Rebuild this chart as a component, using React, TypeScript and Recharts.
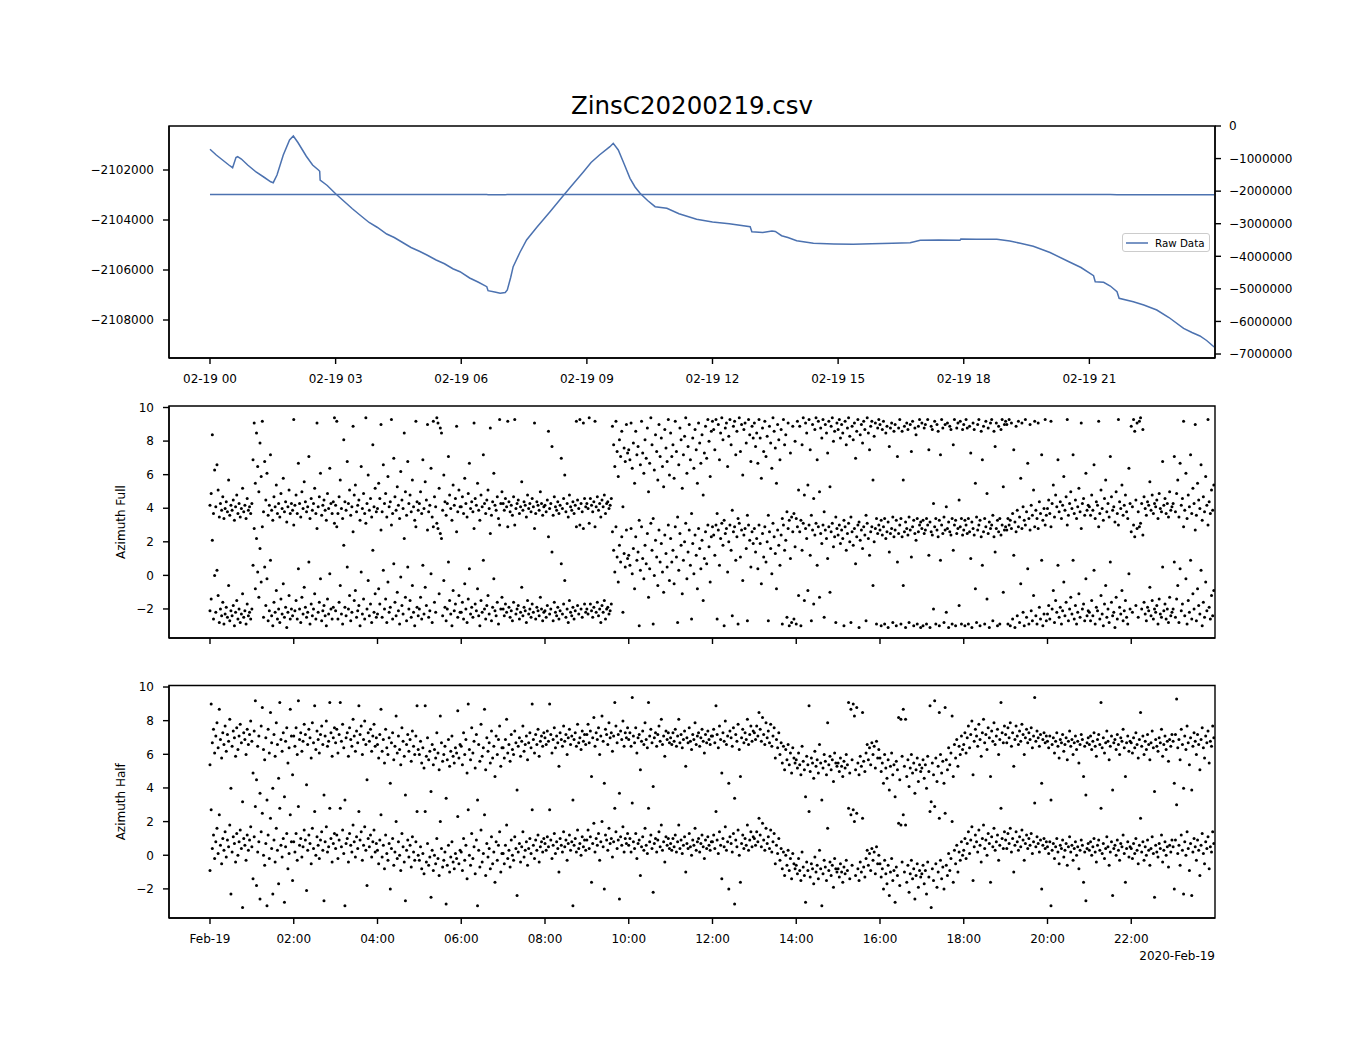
import React from 'react';
import { LineChart, Line, XAxis, YAxis, ScatterChart, Scatter, Legend, ReferenceArea } from 'recharts';

const TITLE = 'ZinsC20200219.csv';
const OFFSET_LABEL = '2020-Feb-19';
const SERIES_NAME = 'Raw Data';

const X_MIN = -0.979;
const X_MAX = 24.0;
const TOP_LEFT_DOMAIN = [-2109520, -2100240];
const TOP_RIGHT_DOMAIN = [-7122500, 0];
const AZ_DOMAIN = [-3.73, 10.09];

// Raw data: time (hours since 02-19 00:00) and value
const RAW_T = [
  0, 0.15, 0.3, 0.45, 0.54, 0.62, 0.66, 0.75, 0.9, 1.1, 1.3, 1.45, 1.51, 1.6, 1.75, 1.9, 1.99, 2.1, 2.3, 2.45,
  2.59, 2.62, 2.63, 2.8, 3.0, 3.2, 3.4, 3.58, 3.8, 4.0, 4.22, 4.4, 4.6, 4.8, 5.0, 5.18, 5.4, 5.6, 5.8, 5.97,
  6.2, 6.4, 6.61, 6.64, 6.8, 6.93, 7.05, 7.1, 7.18, 7.24, 7.4, 7.56, 7.8, 8.12, 8.4, 8.6, 8.92, 9.1, 9.3, 9.55,
  9.63, 9.75, 9.9, 10.03, 10.15, 10.27, 10.45, 10.63, 10.91, 11.2, 11.62, 12.0, 12.4, 12.9, 12.94, 13.2, 13.42, 13.5, 13.65, 13.8,
  14.01, 14.41, 14.9, 15.36, 15.8, 16.3, 16.72, 16.96, 17.4, 17.91, 17.93, 18.3, 18.79, 19.1, 19.35, 19.66, 20.06, 20.5, 20.8, 21.1,
  21.14, 21.34, 21.5, 21.66, 21.71, 22.05, 22.3, 22.61, 22.9, 23.25, 23.45, 23.64, 23.8, 23.98,
];
const RAW_V = [
  -2101172, -2101400, -2101600, -2101800, -2101908, -2101500, -2101468, -2101560, -2101800, -2102080,
  -2102300, -2102470, -2102508, -2102200, -2101400, -2100800, -2100640, -2100900, -2101450, -2101800,
  -2102000, -2102050, -2102400, -2102620, -2102950, -2103250, -2103550, -2103800, -2104100, -2104300,
  -2104560, -2104700, -2104900, -2105100, -2105250, -2105400, -2105600, -2105750, -2105950, -2106068,
  -2106320, -2106480, -2106668, -2106828, -2106880, -2106932, -2106900, -2106800, -2106300, -2105868,
  -2105300, -2104800, -2104300, -2103668, -2103100, -2102700, -2102068, -2101700, -2101400, -2101068,
  -2100932, -2101200, -2101800, -2102332, -2102680, -2102932, -2103220, -2103468, -2103532, -2103750,
  -2103972, -2104080, -2104150, -2104268, -2104468, -2104500, -2104440, -2104460, -2104628, -2104700,
  -2104828, -2104932, -2104960, -2104972, -2104950, -2104930, -2104908, -2104812, -2104800, -2104812,
  -2104760, -2104770, -2104772, -2104840, -2104932, -2105050, -2105300, -2105660, -2105900, -2106228,
  -2106468, -2106492, -2106640, -2106868, -2107132, -2107268, -2107400, -2107600, -2107900, -2108332,
  -2108500, -2108640, -2108820, -2109080,
];

const TOP_X_TICKS = [0, 3, 6, 9, 12, 15, 18, 21];
const TOP_LEFT_TICKS = [-2108000, -2106000, -2104000, -2102000];
const TOP_RIGHT_TICKS = [0, -1000000, -2000000, -3000000, -4000000, -5000000, -6000000, -7000000];
const AZ_X_TICKS = [0, 2, 4, 6, 8, 10, 12, 14, 16, 18, 20, 22];
const AZ_Y_TICKS = [-2, 0, 2, 4, 6, 8, 10];

// Azimuth Full: base angle per sample, one row per hour
const AZ_FULL: number[][] = [
  [-2.1, -1.4, 2.1, -2.6, 0.0, -2.2, 0.3, -1.2, -2.8, -2.0, -2.4, -1.6, -2.9, -2.3, -1.9, -2.5, -0.6, -2.7, -2.1, -2.4, -1.8, -3.0, -2.2, -1.5, -2.6, -2.0, -2.8, -2.3, -1.1, -2.5, -2.1, -2.9, -1.7, -2.4, -2.2, -2.6],
  [-2.0, 0.6, 2.8, -0.8, 2.2, 0.2, -1.3, 1.6, -0.4, 2.9, -2.5, 0.5, -1.8, -0.2, -2.7, -2.1, 0.9, -2.4, -3.0, -1.6, -2.2, -0.9, -2.6, -2.0, -2.8, -1.4, -2.3, -0.5, -2.5, -1.9, -3.1, -2.2, -1.2, -2.6, -2.0, -2.4],
  [3.0, -2.1, -1.5, -2.6, 0.4, -2.0, -2.8, -1.3, -2.3, -0.7, -1.9, -2.5, -2.2, 0.8, -2.9, -1.7, -2.4, -2.0, -1.1, -2.6, 2.8, -2.2, -1.6, -0.2, -2.7, -2.1, -1.8, -2.4, -3.0, -1.4, -2.3, 0.1, -2.0, -2.6, -1.9, 3.1],
  [-2.1, 2.9, -2.6, -1.6, -0.6, -2.3, -2.9, 1.8, -1.9, -2.4, 0.5, -2.0, -1.2, -2.7, -2.2, 2.6, -1.5, -0.9, -2.5, -2.1, -1.8, -3.0, 0.2, -2.3, -1.4, -2.6, 3.1, -2.0, -0.3, -2.4, -1.7, -2.8, 1.5, -2.2, -1.1, -2.5],
  [-2.3, -0.8, -1.7, 2.7, -2.5, 0.3, -2.0, -1.4, -2.8, -0.4, -2.2, -1.9, 3.0, -2.6, 0.7, -1.6, -2.4, -1.0, -2.1, -2.9, -0.1, -1.8, -2.3, 2.2, -1.3, -2.7, 0.5, -2.0, -1.5, -2.5, -0.6, -2.2, -3.0, 2.9, -1.9, -2.4],
  [-2.0, -1.3, -2.6, 0.6, -2.3, -0.7, -1.8, 2.7, -2.5, -2.1, 0.1, -2.8, 2.9, -1.6, -2.2, 3.1, 2.8, -1.1, 2.5, 2.2, -2.4, -0.3, -1.9, -2.7, -2.0, 0.8, -1.5, -2.3, -3.0, -0.9, -2.1, -1.7, 2.6, -2.5, -1.2, -2.2],
  [-2.2, -1.6, -2.6, -0.5, -2.0, -2.8, -1.4, 0.4, -2.3, -1.9, -2.5, 2.8, -1.7, -2.1, -0.8, -2.4, -3.0, -1.5, -2.2, 0.9, -2.0, -2.6, -1.8, -1.2, -2.3, 2.5, -2.7, -1.9, -0.2, -2.1, -2.4, -1.6, -2.9, 3.0, -2.0, -1.3],
  [-2.0, -2.4, -1.7, -2.2, 2.9, -1.9, -2.5, -2.1, -2.7, -1.6, 3.0, -2.3, -2.0, -1.8, -2.6, -2.2, -0.7, -2.4, -1.9, -2.1, -2.8, -1.5, -2.3, -2.0, -2.5, -1.7, -2.2, 2.8, -2.6, -1.9, -2.1, -2.4, -1.3, -2.0, -2.7, -2.2],
  [-2.1, -2.5, -1.8, 2.3, -2.3, -2.0, 1.4, -2.7, -1.6, -2.2, -2.4, -1.9, -2.6, -2.1, 0.7, -2.3, -1.7, -0.3, -2.5, -2.0, -2.8, -1.5, -2.2, -2.4, -1.9, -2.6, -2.1, 2.9, -1.8, -2.3, 3.0, -2.0, -2.5, 2.8, -1.7, -2.2],
  [-2.0, -2.3, 3.1, -1.7, -2.1, -2.5, -1.9, 2.9, -2.2, -1.6, -2.4, -2.0, -2.8, -1.8, -2.2, -1.5, -2.6, -2.0, -1.9, -2.3, -2.1, -1.7, 2.6, 1.5, 0.2, 2.9, 1.1, -0.4, 1.8, 0.8, 2.3, -2.2, 1.3, 0.5, 2.7, 1.0],
  [1.2, 0.6, 2.8, 0.1, 1.6, -0.8, 2.3, 0.9, 1.4, -3.0, 0.3, 2.9, 1.0, -0.2, 1.8, 0.7, 2.5, -1.3, 0.4, 3.1, 1.5, -2.9, 0.0, 2.1, 1.1, -0.6, 2.7, 0.8, 1.9, 0.2, -1.0, 2.4, 1.3, 0.5, 3.0, -0.3],
  [2.2, 0.8, 1.5, -0.5, 2.9, 1.1, -2.8, 0.3, 2.5, 1.8, -1.1, 0.9, 2.0, 3.1, -0.2, 1.4, 2.7, 0.6, -2.6, 1.9, 0.1, 2.4, 1.2, -0.8, 2.8, 1.6, 0.4, 2.1, -1.5, 1.0, 2.6, 0.7, 3.0, 1.7, -0.4, 2.3],
  [2.9, 2.4, 1.2, 3.0, -2.6, 2.7, 0.6, 2.2, 3.1, 1.8, -3.0, 2.5, 2.8, 0.2, 2.0, 3.0, 1.5, -2.4, 2.6, 2.9, 0.9, 2.3, -2.9, 3.1, 1.1, 2.7, -0.3, 2.4, 2.8, 1.6, -2.7, 3.0, 2.1, 0.5, 2.6, 1.9],
  [2.8, 1.4, 2.2, 0.4, 3.0, 1.9, -0.5, 2.5, 1.1, 2.9, 0.8, 2.0, -2.7, 2.6, 1.6, 0.1, 3.1, 2.3, 1.3, -0.8, 2.7, 1.8, 0.6, 2.4, -2.9, 3.0, 1.5, 2.1, -2.5, 2.8, -3.0, 1.0, -2.8, 2.6, -2.6, 1.7],
  [-2.9, 2.9, -1.2, 2.6, -3.0, 1.5, 3.1, -1.5, 2.8, 2.2, -0.9, 3.0, 1.2, -2.7, 2.7, -1.7, 2.4, 3.1, 0.6, 2.9, -1.3, 2.5, 1.9, 3.0, -2.5, 2.7, 2.2, 1.0, 2.9, -1.0, 2.6, 3.1, 1.7, 2.3, -2.8, 2.8],
  [2.4, 3.0, 1.9, 2.7, 2.2, -3.0, 2.9, 1.5, 2.5, 3.1, 2.0, -2.8, 2.6, 1.8, 2.8, 0.7, 2.3, 3.0, -3.1, 2.1, 2.7, 1.6, 2.9, 2.4, -2.7, 3.1, 2.2, 1.2, 2.6, 2.9, -0.6, 2.0, 2.8, -2.9, 2.5, 3.0],
  [2.7, -3.0, 2.4, 2.9, -2.9, 2.2, 2.6, -3.1, 1.4, 2.5, 2.8, -2.8, 2.3, 2.7, -3.0, 0.8, 2.5, 3.0, -2.9, 2.3, -0.6, 2.6, -3.1, 2.8, 2.4, -2.8, 2.7, 1.1, 2.9, -3.0, 2.5, 2.1, -2.9, 2.6, 3.0, -3.1],
  [2.8, -3.0, 2.5, 2.7, -2.9, 3.0, 1.2, -3.1, 2.6, 2.4, -2.0, 2.9, -2.9, 2.7, 2.3, -3.0, 0.9, 3.0, 2.5, -2.8, 2.7, -2.2, 2.8, -3.1, 2.6, 2.4, -2.9, 1.5, 3.0, -3.0, 2.5, 2.8, -1.8, 2.9, -2.9, 2.4],
  [2.7, -3.0, 3.0, 2.5, -2.9, 2.6, 1.0, -3.1, 2.8, 2.4, -0.8, -2.8, 2.7, 3.0, -3.0, 2.3, 0.6, 2.6, -2.9, 2.9, -1.4, 2.5, -3.1, 2.8, 3.0, -2.7, 2.3, 1.4, 2.8, -3.0, 2.6, -2.9, 2.4, 3.0, -1.0, 2.7],
  [2.9, 2.7, -2.9, 3.0, -3.0, 2.8, -2.6, 1.2, -3.1, 2.6, -2.4, 2.9, -2.8, -0.5, 2.8, -2.2, -3.0, 3.0, -2.5, 0.4, -2.9, 2.7, -2.1, -2.7, -1.2, 2.9, -2.4, -2.9, 2.8, -1.9, -2.6, 0.9, -3.0, -2.3, 3.0, -2.7],
  [-2.3, -1.8, -2.6, 2.9, -2.0, -0.9, -2.8, -1.5, -2.2, 0.6, -2.5, -1.9, -2.9, -2.1, -0.4, -2.4, -1.6, 3.0, -2.7, -2.0, -1.3, -2.3, 0.9, -2.6, -1.8, -2.9, -2.2, -1.1, -2.5, 2.8, -2.0, -1.7, -2.7, -0.2, -2.4, -2.1],
  [-2.2, -2.7, -1.5, -2.4, 0.3, -2.9, -1.9, -2.1, 2.9, -2.6, -1.2, -2.3, -3.0, -1.7, -0.6, -2.5, -2.0, -2.8, 0.8, -1.6, -2.4, -2.2, -3.1, -1.3, -2.6, 3.0, -1.9, -2.3, -0.9, -2.7, -2.1, -1.5, -2.5, -2.9, 0.1, -2.0],
  [2.6, -2.2, 3.0, 2.3, -1.8, 2.8, -2.5, 2.9, 3.1, -2.0, 2.4, -1.6, -2.3, -2.7, -1.9, -2.1, -0.7, -2.4, -1.5, -2.6, -2.0, -2.2, -1.8, -2.9, -1.4, -2.3, -2.5, 0.5, -2.1, -1.7, -2.6, -2.0, -2.8, -1.3, -2.4, -2.2],
  [-2.0, 0.8, -2.5, -1.4, -0.6, -2.8, 0.4, -2.1, -1.7, 2.9, -2.4, -0.2, -2.9, -1.5, -2.2, 0.9, -2.6, -1.1, -2.0, 2.7, -2.7, -0.8, -1.8, -2.3, 0.3, -3.0, -1.6, -2.5, -0.4, -2.1, 3.0, -1.9, -2.6, -1.2, -2.4, -0.9],
];

// Azimuth Half: base angle per sample, one row per hour
const AZ_HALF: number[][] = [
  [-0.9, 2.7, 0.4, 1.2, -0.2, 0.8, 1.6, 0.1, 2.4, 0.6, -0.5, 1.0, 0.3, 1.4, -0.1, 0.9, 0.5, 1.8, -2.3, 0.2, 1.1, 0.7, -0.4, 1.3, 0.0, 0.8, 1.5, 0.4, -3.1, 1.0, 0.6, -0.3, 1.2, 0.3, 0.9, 1.7],
  [0.5, -1.4, 1.1, 2.9, -1.8, 0.2, 0.8, -2.6, 1.4, 2.5, 0.0, -0.6, 0.7, -3.0, 1.2, -0.2, 2.2, 0.4, -2.3, 0.9, -0.4, 1.6, 0.3, -1.7, 2.8, 0.6, -0.1, 1.0, -2.8, 0.5, 1.3, -0.8, 0.1, 2.4, 0.8, -1.5],
  [0.8, 0.2, 1.3, -0.3, 2.9, 0.6, 1.0, -0.1, 0.5, 1.5, 0.9, -2.1, 0.3, 1.2, 0.7, -0.5, 1.6, 0.4, 2.6, 0.0, 1.1, 0.6, -0.2, 0.9, 1.4, 0.3, -2.7, 0.8, 1.7, 0.2, 0.5, 2.8, 1.0, -0.4, 0.7, 1.3],
  [0.4, 1.2, -0.2, 0.9, 2.8, 0.5, 1.5, 0.1, -3.0, 0.7, 1.0, -0.4, 1.3, 0.6, 0.2, 1.8, 0.8, -0.1, 1.1, 0.4, 2.6, 0.9, 1.4, -0.3, 0.6, 1.7, 0.3, -1.8, 1.0, 0.5, 1.2, -0.1, 0.8, 1.5, 0.2, 0.7],
  [0.3, -0.5, 0.9, 2.4, -0.1, 0.6, -0.8, 1.2, 0.1, -0.3, 0.7, -2.0, 0.4, 1.0, -0.6, 0.2, 2.0, -0.2, 0.8, 0.0, -0.9, 1.3, 0.5, -0.4, -2.7, 0.3, 0.9, -0.1, 0.6, -0.7, 1.1, 0.2, -0.3, 0.8, 2.6, 0.0],
  [-0.3, 0.5, -0.8, 0.1, -1.1, 2.6, -0.4, 0.7, -0.6, -0.1, -2.5, 0.3, -0.9, 0.0, -0.5, 1.0, -0.2, -1.2, 2.0, 0.4, -0.7, -0.3, 0.2, -2.9, -0.6, 0.6, -1.0, -0.1, 0.8, -0.4, -0.8, 0.1, -0.2, 2.3, -0.5, 0.3],
  [0.2, -0.9, 1.0, -0.3, 0.6, -1.4, 2.7, 0.0, -0.6, 1.3, -0.2, 0.5, -1.1, 0.9, -3.0, 0.3, -0.7, 1.5, -0.4, 0.1, 2.4, -1.2, 0.7, -0.1, 0.4, -0.8, 1.1, -0.5, 0.2, -1.6, 0.8, -0.3, 0.6, 1.4, -1.0, 0.1],
  [0.1, -0.5, 0.6, 1.8, -0.2, 0.3, -0.7, 0.9, 0.0, -0.3, 1.1, 0.4, -2.4, 0.2, 0.7, -0.4, 0.5, 1.4, -0.1, 0.3, 0.8, -0.6, 0.4, 1.0, 0.1, 2.7, 0.6, -0.2, 0.9, 0.3, 1.2, -0.4, 0.5, 0.8, 0.2, 1.0],
  [0.7, 0.3, 1.1, 0.5, 2.7, 0.9, -0.2, 0.6, 1.3, 0.1, 0.8, 0.4, -1.0, 1.0, 0.6, 0.2, 1.4, 0.5, 0.9, -0.3, 0.7, 1.2, 0.3, 0.8, -3.0, 0.6, 1.0, 0.2, 1.5, 0.4, 0.7, 0.0, 1.1, 0.5, 0.9, 0.3],
  [0.9, 1.5, 0.4, 1.1, -1.6, 0.7, 1.9, 0.2, 1.0, 0.6, 1.3, -0.3, 0.8, 2.0, 0.5, -2.0, 1.2, 0.9, 0.3, 1.6, 0.7, 1.0, -0.1, 0.8, 2.8, 1.4, 0.4, 0.9, -2.6, 1.1, 0.6, 1.7, 0.2, 1.0, 0.7, 1.3],
  [0.6, 1.0, 0.2, 3.1, 0.8, 0.4, 1.3, -0.2, 0.7, 0.9, -1.2, 0.5, 1.1, 0.3, 1.6, 0.6, 0.1, 2.8, 0.8, 1.2, 0.4, -2.2, 0.7, 1.0, 0.2, 0.9, 1.4, 0.5, 1.8, 0.3, 0.8, -0.4, 1.1, 0.6, 1.0, 0.4],
  [0.7, 0.3, 1.0, 0.5, 1.2, 0.2, 0.8, 1.8, 0.4, 0.9, 0.1, 0.6, 1.1, -1.0, 0.7, 0.4, 1.3, 0.5, 0.0, 0.9, 0.6, 1.6, 0.3, 0.8, 1.0, 0.2, 0.7, 1.2, 0.5, -0.2, 0.9, 0.4, 1.1, 0.6, 0.3, 0.8],
  [0.8, 1.2, 0.4, 2.6, 0.9, 0.1, 1.4, 0.6, -1.4, 1.0, 0.5, 1.7, 0.3, 0.8, -2.0, 1.1, 0.7, 0.2, 1.3, -2.9, 0.9, 0.5, 1.5, 0.0, -1.6, 0.7, 1.2, 0.4, 1.0, 0.6, 1.8, 0.3, 0.9, 1.4, 0.5, 1.1],
  [1.0, 0.6, 1.4, 0.8, 2.2, 1.2, 0.5, 1.9, 0.9, 0.3, 1.6, 0.7, 1.1, 0.4, 1.5, 0.2, 0.8, 1.3, -0.5, 0.6, 0.1, 1.0, -0.3, 0.4, -0.8, 0.2, -1.2, 0.0, -0.6, 0.3, -0.9, -0.2, -1.4, 0.1, -0.5, -0.8],
  [-0.6, -1.1, -0.2, -0.9, -1.5, 0.2, -0.7, -1.2, -2.8, -0.4, -0.9, 2.6, -1.3, -0.5, -0.8, -1.7, -0.1, -1.0, -0.6, -1.4, 0.3, -0.8, -3.0, -1.1, -0.3, -0.7, -1.5, 1.6, -0.9, -0.4, -1.2, -0.6, -1.9, -0.2, -0.8, -1.0],
  [-0.8, -1.3, -0.5, -1.0, -1.6, -0.7, -1.1, -0.3, -0.9, 2.8, -1.4, 2.4, -0.6, 2.7, 2.0, -1.2, 2.5, -0.8, -1.5, -0.4, -1.0, 2.2, -0.7, -1.3, -0.2, 0.3, -0.6, 0.1, -0.9, 0.4, -0.3, 0.2, -1.1, 0.5, -0.5, 0.0],
  [-0.5, -1.3, -0.8, -2.0, -0.3, -1.1, -1.7, -0.6, -2.4, -1.0, -0.2, -1.5, -0.9, -2.8, -0.7, -1.2, 1.9, -1.8, 1.8, -0.4, 2.4, -1.0, 1.8, -1.6, -0.6, -2.2, -1.1, -0.3, -1.4, -0.8, -2.6, -1.2, -0.5, -1.9, -0.9, -1.3],
  [-1.1, -0.6, -1.7, -0.9, -2.3, -0.4, -1.3, 2.6, -3.1, -0.8, -1.5, 2.9, -0.5, -1.9, -1.0, 2.2, -0.3, -1.4, -0.7, -2.0, 2.5, -0.6, -1.2, 0.1, -0.9, -0.2, 2.0, -1.6, 0.3, -0.5, 0.6, -1.0, 0.2, -0.3, 0.8, 0.0],
  [0.3, 1.0, -0.2, 0.7, 1.4, 0.1, 0.9, 1.7, -1.5, 0.5, 1.2, 0.8, 0.2, 1.5, 0.6, -0.4, 1.0, 1.8, 0.4, 0.9, 0.0, 1.3, 0.7, -1.6, 1.1, 0.5, 1.6, 0.3, 0.8, 1.2, -0.3, 0.6, 2.8, 1.0, 0.4, 1.4],
  [0.9, 0.4, 1.3, 0.7, 1.6, 0.2, 1.0, -1.0, 0.6, 1.4, 0.8, 0.3, 1.1, 0.5, 1.5, 0.9, -0.3, 0.7, 1.2, 0.4, 1.0, 0.6, 1.3, 0.1, 0.8, 3.1, 0.5, 1.1, 0.7, 0.2, 0.9, -2.0, 0.6, 1.0, 0.4, 0.8],
  [0.5, 0.1, 0.8, -3.0, 0.3, 0.7, -0.2, 0.5, 1.0, 0.2, -0.5, 0.6, 0.4, 0.9, -0.1, 0.3, 0.7, -0.6, 0.5, 1.1, 0.2, 0.6, -0.3, 0.4, 0.8, 0.0, 0.5, -0.8, 0.3, 0.9, 0.6, -1.6, 0.2, -2.7, 0.4, 0.7],
  [0.3, 0.8, 0.0, 0.5, 1.0, 0.2, -0.4, 0.6, 0.9, 0.3, 2.8, 0.1, 0.7, -0.2, 0.4, 1.1, 0.5, -0.6, 0.2, 0.8, -2.4, 0.4, 0.6, 0.0, 0.9, 0.3, -0.3, 0.7, 0.5, 1.2, 0.1, -1.6, 0.4, 0.8, -0.1, 0.5],
  [0.4, -0.2, 0.7, 0.1, 1.0, 0.3, -0.5, 0.6, 2.2, 0.2, 0.8, -0.3, 0.5, 0.0, 0.9, 0.3, -0.6, 0.4, 1.1, 0.1, -2.5, 0.6, 0.2, -0.1, 0.7, 0.4, 1.2, -0.4, 0.3, 0.8, 0.0, 0.5, -0.7, 0.6, 0.2, 0.9],
  [0.5, -2.0, 0.9, 3.0, 0.1, 0.6, -0.6, 1.2, 0.3, -2.3, 0.8, 0.0, 1.4, 0.4, -0.9, 0.7, -2.4, 0.2, 1.0, 0.5, -0.3, 0.9, 0.3, -1.2, 0.6, 1.3, 0.1, -0.5, 0.8, 0.4, 1.1, -0.8, 0.5, 0.2, 1.4, 0.7],
];

const LINE_COLOR = '#4c72b0';
const FONT = "'DejaVu Sans', sans-serif";
const TWO_PI = 2 * Math.PI;

const fmtNum = (v: number) => (v < 0 ? '\u2212' + Math.abs(v) : String(v));
const pad2 = (n: number) => String(n).padStart(2, '0');
const fmtTopX = (t: number) => `02-19 ${pad2(t)}`;
const fmtBottomX = (t: number) => (t === 0 ? 'Feb-19' : `${pad2(t)}:00`);

const buildPoints = (rows: number[][]) =>
  rows.flatMap((row, h) =>
    row.flatMap((v, j) => {
      const t = h + j / row.length;
      return [
        { t, y: v },
        { t, y: v + TWO_PI },
      ];
    })
  );

const rawData = RAW_T.map((t, i) => ({ t, v: RAW_V[i] }));
const fullPoints = buildPoints(AZ_FULL);
const halfPoints = buildPoints(AZ_HALF);

const tickStyle = { fill: '#000', fontSize: 12, fontFamily: FONT };
const lineStyle = { stroke: '#000', strokeWidth: 1.4 };

const Dot = (p: any) => <circle cx={p.cx} cy={p.cy} r={1.5} fill="#000" />;

const LegendBox = (props: any) => {
  const items = (props.payload || []).filter((p: any) => p.type !== 'none');
  const label = items.length ? items[0].value : SERIES_NAME;
  return (
    <div
      style={{
        width: 88,
        height: 19,
        boxSizing: 'border-box',
        border: '1px solid #cccccc',
        borderRadius: 3,
        background: 'rgba(255,255,255,0.8)',
        display: 'flex',
        alignItems: 'center',
        fontFamily: FONT,
        fontSize: 10.3,
        color: '#000',
      }}
    >
      <svg width={32} height={10} style={{ flex: 'none' }}>
        <line x1={3} x2={25} y1={5} y2={5} stroke={LINE_COLOR} strokeWidth={1.5} />
      </svg>
      <span style={{ whiteSpace: 'nowrap' }}>{label}</span>
    </div>
  );
};

function TopChart() {
  return (
    <LineChart width={1350} height={400} data={rawData} margin={{ top: 126, right: 35, bottom: 12, left: 69 }}>
      <XAxis
        dataKey="t"
        type="number"
        domain={[X_MIN, X_MAX]}
        allowDataOverflow
        ticks={TOP_X_TICKS}
        interval={0}
        tickFormatter={fmtTopX}
        height={30}
        tick={tickStyle}
        tickSize={6}
        tickMargin={10}
        axisLine={lineStyle}
        tickLine={lineStyle}
      />
      <YAxis
        yAxisId="left"
        type="number"
        domain={TOP_LEFT_DOMAIN}
        allowDataOverflow
        ticks={TOP_LEFT_TICKS}
        interval={0}
        tickFormatter={fmtNum}
        width={100}
        tick={tickStyle}
        tickSize={6}
        tickMargin={9}
        axisLine={lineStyle}
        tickLine={lineStyle}
      />
      <YAxis
        yAxisId="right"
        orientation="right"
        type="number"
        domain={TOP_RIGHT_DOMAIN}
        allowDataOverflow
        ticks={TOP_RIGHT_TICKS}
        interval={0}
        tickFormatter={fmtNum}
        width={100}
        tick={tickStyle}
        tickSize={6}
        tickMargin={8}
        axisLine={lineStyle}
        tickLine={lineStyle}
      />
      <ReferenceArea
        yAxisId="left"
        x1={X_MIN}
        x2={X_MAX}
        y1={TOP_LEFT_DOMAIN[0]}
        y2={TOP_LEFT_DOMAIN[1]}
        fill="none"
        fillOpacity={0}
        stroke="#000"
        strokeWidth={1.4}
        ifOverflow="visible"
      />
      <Line
        yAxisId="left"
        type="linear"
        dataKey="v"
        name={SERIES_NAME}
        stroke={LINE_COLOR}
        strokeWidth={1.5}
        dot={false}
        isAnimationActive={false}
      />
      <Line
        yAxisId="right"
        type="linear"
        dataKey="v"
        name="raw-right"
        legendType="none"
        stroke={LINE_COLOR}
        strokeWidth={1.5}
        dot={false}
        isAnimationActive={false}
      />
      <Legend
        layout="horizontal"
        align="center"
        verticalAlign="middle"
        content={LegendBox}
        wrapperStyle={{ left: 1122, top: 233, width: 88, height: 19 }}
      />
    </LineChart>
  );
}

function AzChart(props: { points: { t: number; y: number }[]; label: string; height: number; marginTop: number; marginBottom: number; showX: boolean }) {
  const { points, label, height, marginTop, marginBottom, showX } = props;
  return (
    <ScatterChart width={1350} height={height} margin={{ top: marginTop, right: 135, bottom: marginBottom, left: 69 }}>
      <XAxis
        dataKey="t"
        type="number"
        domain={[X_MIN, X_MAX]}
        allowDataOverflow
        ticks={AZ_X_TICKS}
        interval={0}
        tickFormatter={showX ? fmtBottomX : () => ''}
        height={30}
        tick={tickStyle}
        tickSize={6}
        tickMargin={10}
        axisLine={lineStyle}
        tickLine={lineStyle}
      />
      <YAxis
        dataKey="y"
        type="number"
        domain={AZ_DOMAIN}
        allowDataOverflow
        ticks={AZ_Y_TICKS}
        interval={0}
        tickFormatter={fmtNum}
        width={100}
        tick={tickStyle}
        tickSize={6}
        tickMargin={9}
        axisLine={lineStyle}
        tickLine={lineStyle}
        label={{
          value: label,
          angle: -90,
          position: 'insideLeft',
          offset: 52,
          style: { textAnchor: 'middle', fontSize: 12, fontFamily: FONT, fill: '#000' },
        }}
      />
      <ReferenceArea
        x1={X_MIN}
        x2={X_MAX}
        y1={AZ_DOMAIN[0]}
        y2={AZ_DOMAIN[1]}
        fill="none"
        fillOpacity={0}
        stroke="#000"
        strokeWidth={1.4}
        ifOverflow="visible"
      />
      <Scatter data={points} dataKey="y" fill="#000" shape={Dot} isAnimationActive={false} />
    </ScatterChart>
  );
}

export default function App() {
  return (
    <div style={{ position: 'absolute', left: 0, top: 0, width: 1350, height: 1050, background: '#fff' }}>
      <div style={{ position: 'absolute', left: 0, top: 0 }}>
        <TopChart />
      </div>
      <div style={{ position: 'absolute', left: 0, top: 380 }}>
        <AzChart points={fullPoints} label="Azimuth Full" height={300} marginTop={26} marginBottom={12} showX={false} />
      </div>
      <div style={{ position: 'absolute', left: 0, top: 660 }}>
        <AzChart points={halfPoints} label="Azimuth Half" height={320} marginTop={25.5} marginBottom={32} showX={true} />
      </div>
      <svg width={1350} height={1050} style={{ position: 'absolute', left: 0, top: 0, pointerEvents: 'none' }}>
        <text x={692} y={114} textAnchor="middle" fontFamily={FONT} fontSize={24.5} fill="#000">
          {TITLE}
        </text>
        <text x={1215} y={960} textAnchor="end" fontFamily={FONT} fontSize={12} fill="#000">
          {OFFSET_LABEL}
        </text>
      </svg>
    </div>
  );
}
